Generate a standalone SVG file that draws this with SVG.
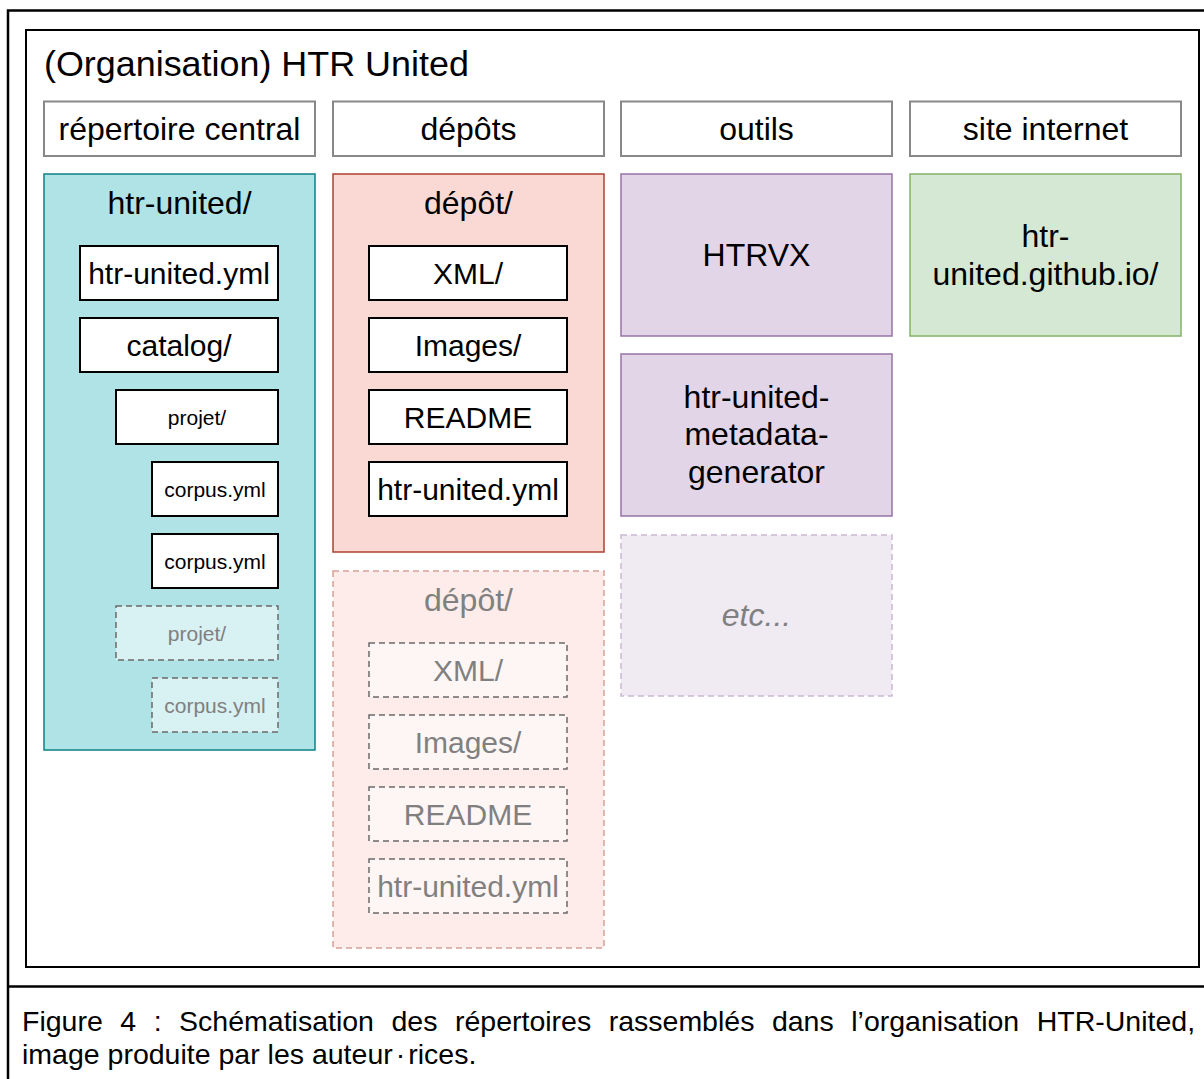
<svg xmlns="http://www.w3.org/2000/svg" width="1204" height="1079" viewBox="0 0 1204 1079">
<style>
text{font-family:"Liberation Sans",Arial,sans-serif;fill:#000;text-anchor:middle}
.hdr{fill:#fff;stroke:#888;stroke-width:2}
.f32{font-size:32px}
.f30{font-size:30px}
.f21{font-size:21px}
.wb{fill:#fff;stroke:#000;stroke-width:2}
.teal{fill:#b0e3e6;stroke:#0e8088;stroke-width:1.5}
.red{fill:#fad9d5;stroke:#ae4132;stroke-width:1.5}
.purple{fill:#e1d5e7;stroke:#9673a6;stroke-width:1.5}
.green{fill:#d5e8d4;stroke:#82b366;stroke-width:1.5}
.dteal{fill:#d8f1f3;stroke:#6a6a6a;stroke-width:1.5;stroke-dasharray:6 4}
.dred{fill:#fdecea;stroke:#d7a099;stroke-width:1.5;stroke-dasharray:6 4}
.dredin{fill:#fef6f5;stroke:#6a6a6a;stroke-width:1.5;stroke-dasharray:6 4}
.dpurple{fill:#f0eaf3;stroke:#cbb9d2;stroke-width:1.5;stroke-dasharray:6 4}
.grey{fill:#808080}
.cap{font-size:28.5px;text-anchor:start}
</style>
<rect x="0" y="0" width="1204" height="1079" fill="#fff"/>
<g id="frame" fill="none" stroke="#000">
<path d="M8,1079 V10.5 H1204" stroke-width="2.5"/>
<path d="M8,986.5 H1204" stroke-width="2.5"/>
<rect x="26" y="30" width="1173" height="937" stroke-width="2"/>
</g>
<g id="title"><text x="44" y="76" font-size="35.9" style="text-anchor:start">(Organisation) HTR United</text></g>

<g id="hdr-repertoire"><rect class="hdr" x="44" y="101.5" width="271" height="54.5"/><text class="f32" x="179.5" y="139.5">répertoire central</text></g>
<g id="hdr-depots"><rect class="hdr" x="333" y="101.5" width="271" height="54.5"/><text class="f32" x="468.5" y="139.5">dépôts</text></g>
<g id="hdr-outils"><rect class="hdr" x="621" y="101.5" width="271" height="54.5"/><text class="f32" x="756.5" y="139.5">outils</text></g>
<g id="hdr-site"><rect class="hdr" x="910" y="101.5" width="271" height="54.5"/><text class="f32" x="1045.5" y="139.5">site internet</text></g>

<g id="htr-united-repo"><rect class="teal" x="44" y="174" width="271" height="576"/><text class="f32" x="179.5" y="214">htr-united/</text></g>
<g id="c1-htr-united-yml"><rect class="wb" x="80" y="246" width="198" height="54"/><text class="f30" x="179" y="283.5">htr-united.yml</text></g>
<g id="c1-catalog"><rect class="wb" x="80" y="318" width="198" height="54"/><text class="f30" x="179" y="355.5">catalog/</text></g>
<g id="c1-projet"><rect class="wb" x="116" y="390" width="162" height="54"/><text class="f21" x="197" y="424.5">projet/</text></g>
<g id="c1-corpus1"><rect class="wb" x="152" y="462" width="126" height="54"/><text class="f21" x="215" y="496.5">corpus.yml</text></g>
<g id="c1-corpus2"><rect class="wb" x="152" y="534" width="126" height="54"/><text class="f21" x="215" y="568.5">corpus.yml</text></g>
<g id="c1-projet-ghost"><rect class="dteal" x="116" y="606" width="162" height="54"/><text class="f21 grey" x="197" y="640.5">projet/</text></g>
<g id="c1-corpus-ghost"><rect class="dteal" x="152" y="678" width="126" height="54"/><text class="f21 grey" x="215" y="712.5">corpus.yml</text></g>

<g id="depot1"><rect class="red" x="333" y="174" width="271" height="378"/><text class="f32" x="468.5" y="214">dépôt/</text></g>
<g id="d1-xml"><rect class="wb" x="369" y="246" width="198" height="54"/><text class="f30" x="468" y="283.5">XML/</text></g>
<g id="d1-images"><rect class="wb" x="369" y="318" width="198" height="54"/><text class="f30" x="468" y="355.5">Images/</text></g>
<g id="d1-readme"><rect class="wb" x="369" y="390" width="198" height="54"/><text class="f30" x="468" y="427.5">README</text></g>
<g id="d1-yml"><rect class="wb" x="369" y="462" width="198" height="54"/><text class="f30" x="468" y="499.5">htr-united.yml</text></g>

<g id="depot2"><rect class="dred" x="333" y="571" width="271" height="377"/><text class="f32 grey" x="468.5" y="611">dépôt/</text></g>
<g id="d2-xml"><rect class="dredin" x="369" y="643" width="198" height="54"/><text class="f30 grey" x="468" y="680.5">XML/</text></g>
<g id="d2-images"><rect class="dredin" x="369" y="715" width="198" height="54"/><text class="f30 grey" x="468" y="752.5">Images/</text></g>
<g id="d2-readme"><rect class="dredin" x="369" y="787" width="198" height="54"/><text class="f30 grey" x="468" y="824.5">README</text></g>
<g id="d2-yml"><rect class="dredin" x="369" y="859" width="198" height="54"/><text class="f30 grey" x="468" y="896.5">htr-united.yml</text></g>

<g id="htrvx"><rect class="purple" x="621" y="174" width="271" height="162"/><text class="f32" x="756.5" y="266">HTRVX</text></g>
<g id="metadata-generator"><rect class="purple" x="621" y="354" width="271" height="162"/><text class="f32" x="756.5" y="407.5">htr-united-</text><text class="f32" x="756.5" y="445">metadata-</text><text class="f32" x="756.5" y="482.5">generator</text></g>
<g id="etc"><rect class="dpurple" x="621" y="535" width="271" height="161"/><text class="f32 grey" x="756.5" y="626" font-style="italic">etc...</text></g>

<g id="site"><rect class="green" x="910" y="174" width="271" height="162"/><text class="f32" x="1045.5" y="246.5">htr-</text><text class="f32" x="1045.5" y="284.5">united.github.io/</text></g>

<g id="connectors"></g>

<g id="caption">
<text class="cap" x="22" y="1031" word-spacing="9.6">Figure 4 : Schématisation des répertoires rassemblés dans l’organisation HTR-United,</text>
<text class="cap" x="22" y="1064">image produite par les auteur<tspan dx="3">·</tspan><tspan dx="3">rices.</tspan></text>
</g>
</svg>
